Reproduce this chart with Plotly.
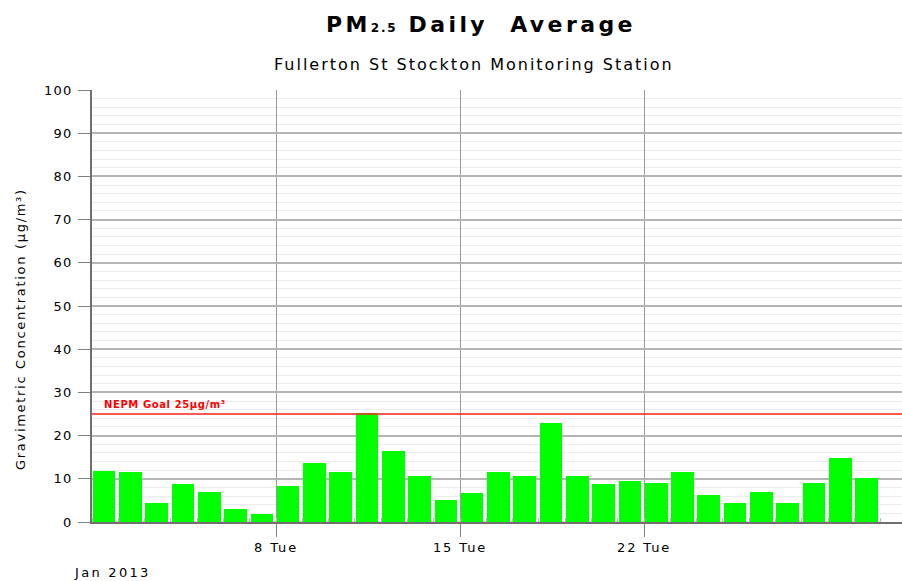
import plotly.graph_objects as go
import pandas as pd

days = pd.date_range("2013-01-01", periods=30, freq="D")
pm25 = [11.9, 11.5, 4.5, 8.7, 7.0, 3.0, 1.8, 8.3, 13.6, 11.5,
        25.2, 16.4, 10.7, 5.0, 6.7, 11.5, 10.7, 22.9, 10.7, 8.7,
        9.5, 9.1, 11.5, 6.2, 4.5, 7.0, 4.5, 9.1, 14.8, 10.3]
goal = 25
tick_days = ["2013-01-08", "2013-01-15", "2013-01-22"]
tick_text = ["8 Tue", "15 Tue", "22 Tue"]
y_ticks = [0, 10, 20, 30, 40, 50, 60, 70, 80, 90, 100]

DAY = 86400000
FONT = "DejaVu Sans, Verdana, sans-serif"


def sp(text, px):
    return f"<span style='letter-spacing:{px}px'>{text}</span>"


W, H = 902, 581
L, R, T, B = 92, 0, 90, 59

fig = go.Figure()
fig.add_trace(go.Bar(
    x=days, y=pm25,
    width=0.86 * DAY, offset=0.03 * DAY,
    marker=dict(color="#00ff00", line=dict(width=0)),
    hoverinfo="x+y",
))

fig.add_shape(type="line", xref="paper", x0=0, x1=1, yref="y", y0=goal, y1=goal,
              line=dict(color="#ff2020", width=1.5), layer="above")

fig.update_layout(
    width=W, height=H,
    margin=dict(l=L, r=R, t=T, b=B, autoexpand=False),
    paper_bgcolor="white", plot_bgcolor="white",
    showlegend=False, bargap=0,
    font=dict(family=FONT, size=13, color="#000"),
    xaxis=dict(
        type="date",
        range=["2013-01-01", "2013-01-31 19:26"],
        tickmode="array", tickvals=tick_days,
        ticktext=[sp(t, 1.9) for t in tick_text],
        ticks="outside", ticklen=13, tickcolor="#808080", tickwidth=1,
        showgrid=True, gridcolor="#9a9a9a", gridwidth=1,
        showline=True, linecolor="#707070", linewidth=1.5,
        zeroline=False, automargin=False,
        tickfont=dict(family=FONT, size=13, color="#000"),
        minor=dict(ticks="inside", tickmode="linear", tick0="2013-01-01", dtick=DAY,
                   ticklen=4, tickcolor="#bdbdbd", showgrid=False),
    ),
    yaxis=dict(
        range=[0, 100],
        tickmode="array", tickvals=y_ticks,
        ticktext=[sp(v, 1.3) for v in y_ticks],
        ticks="outside", ticklen=12, tickcolor="#808080",
        ticklabelstandoff=3,
        showgrid=True, gridcolor="#b4b4b4", gridwidth=1.5,
        showline=True, linecolor="#707070", linewidth=1.5,
        zeroline=False, automargin=False,
        tickfont=dict(family=FONT, size=13, color="#000"),
        minor=dict(dtick=2, tickmode="linear", tick0=0, showgrid=True,
                   gridcolor="#ececec", gridwidth=1),
    ),
)

ann = [
    dict(text="<b>" + sp("PM", 3.4)
         + "<span style='font-size:12px;letter-spacing:1.8px'>2.5</span>"
         + sp(" Daily  Average", 3.4) + "</b>",
         x=481, y=25, xa="center", font=dict(size=22, color="#000", family=FONT)),
    dict(text=sp("Fullerton St Stockton Monitoring Station", 2),
         x=474, y=64, xa="center", font=dict(size=16, color="#000", family=FONT)),
    dict(text=sp("Gravimetric Concentration (µg/m³)", 1.7), textangle=-90,
         x=20, y=329, xa="center", font=dict(size=13, color="#000", family=FONT)),
    dict(text=sp("Jan 2013", 2.3), x=72, y=572, xa="left",
         font=dict(size=13, color="#000", family=FONT)),
    dict(text="<b>" + sp("NEPM Goal 25µg/m³", 0.6) + "</b>", x=102, y=404, xa="left",
         font=dict(size=10, color="#ff0000", family=FONT)),
]
for a in ann:
    fig.add_annotation(
        text=a["text"], xref="paper", yref="paper",
        x=(a["x"] - L) / (W - L - R), y=((H - a["y"]) - B) / (H - T - B),
        xanchor=a["xa"], yanchor="middle", showarrow=False,
        textangle=a.get("textangle", 0), font=a["font"],
    )

fig.write_html("out.html", config={"displayModeBar": False},
               post_script="document.body.style.margin='0';")
